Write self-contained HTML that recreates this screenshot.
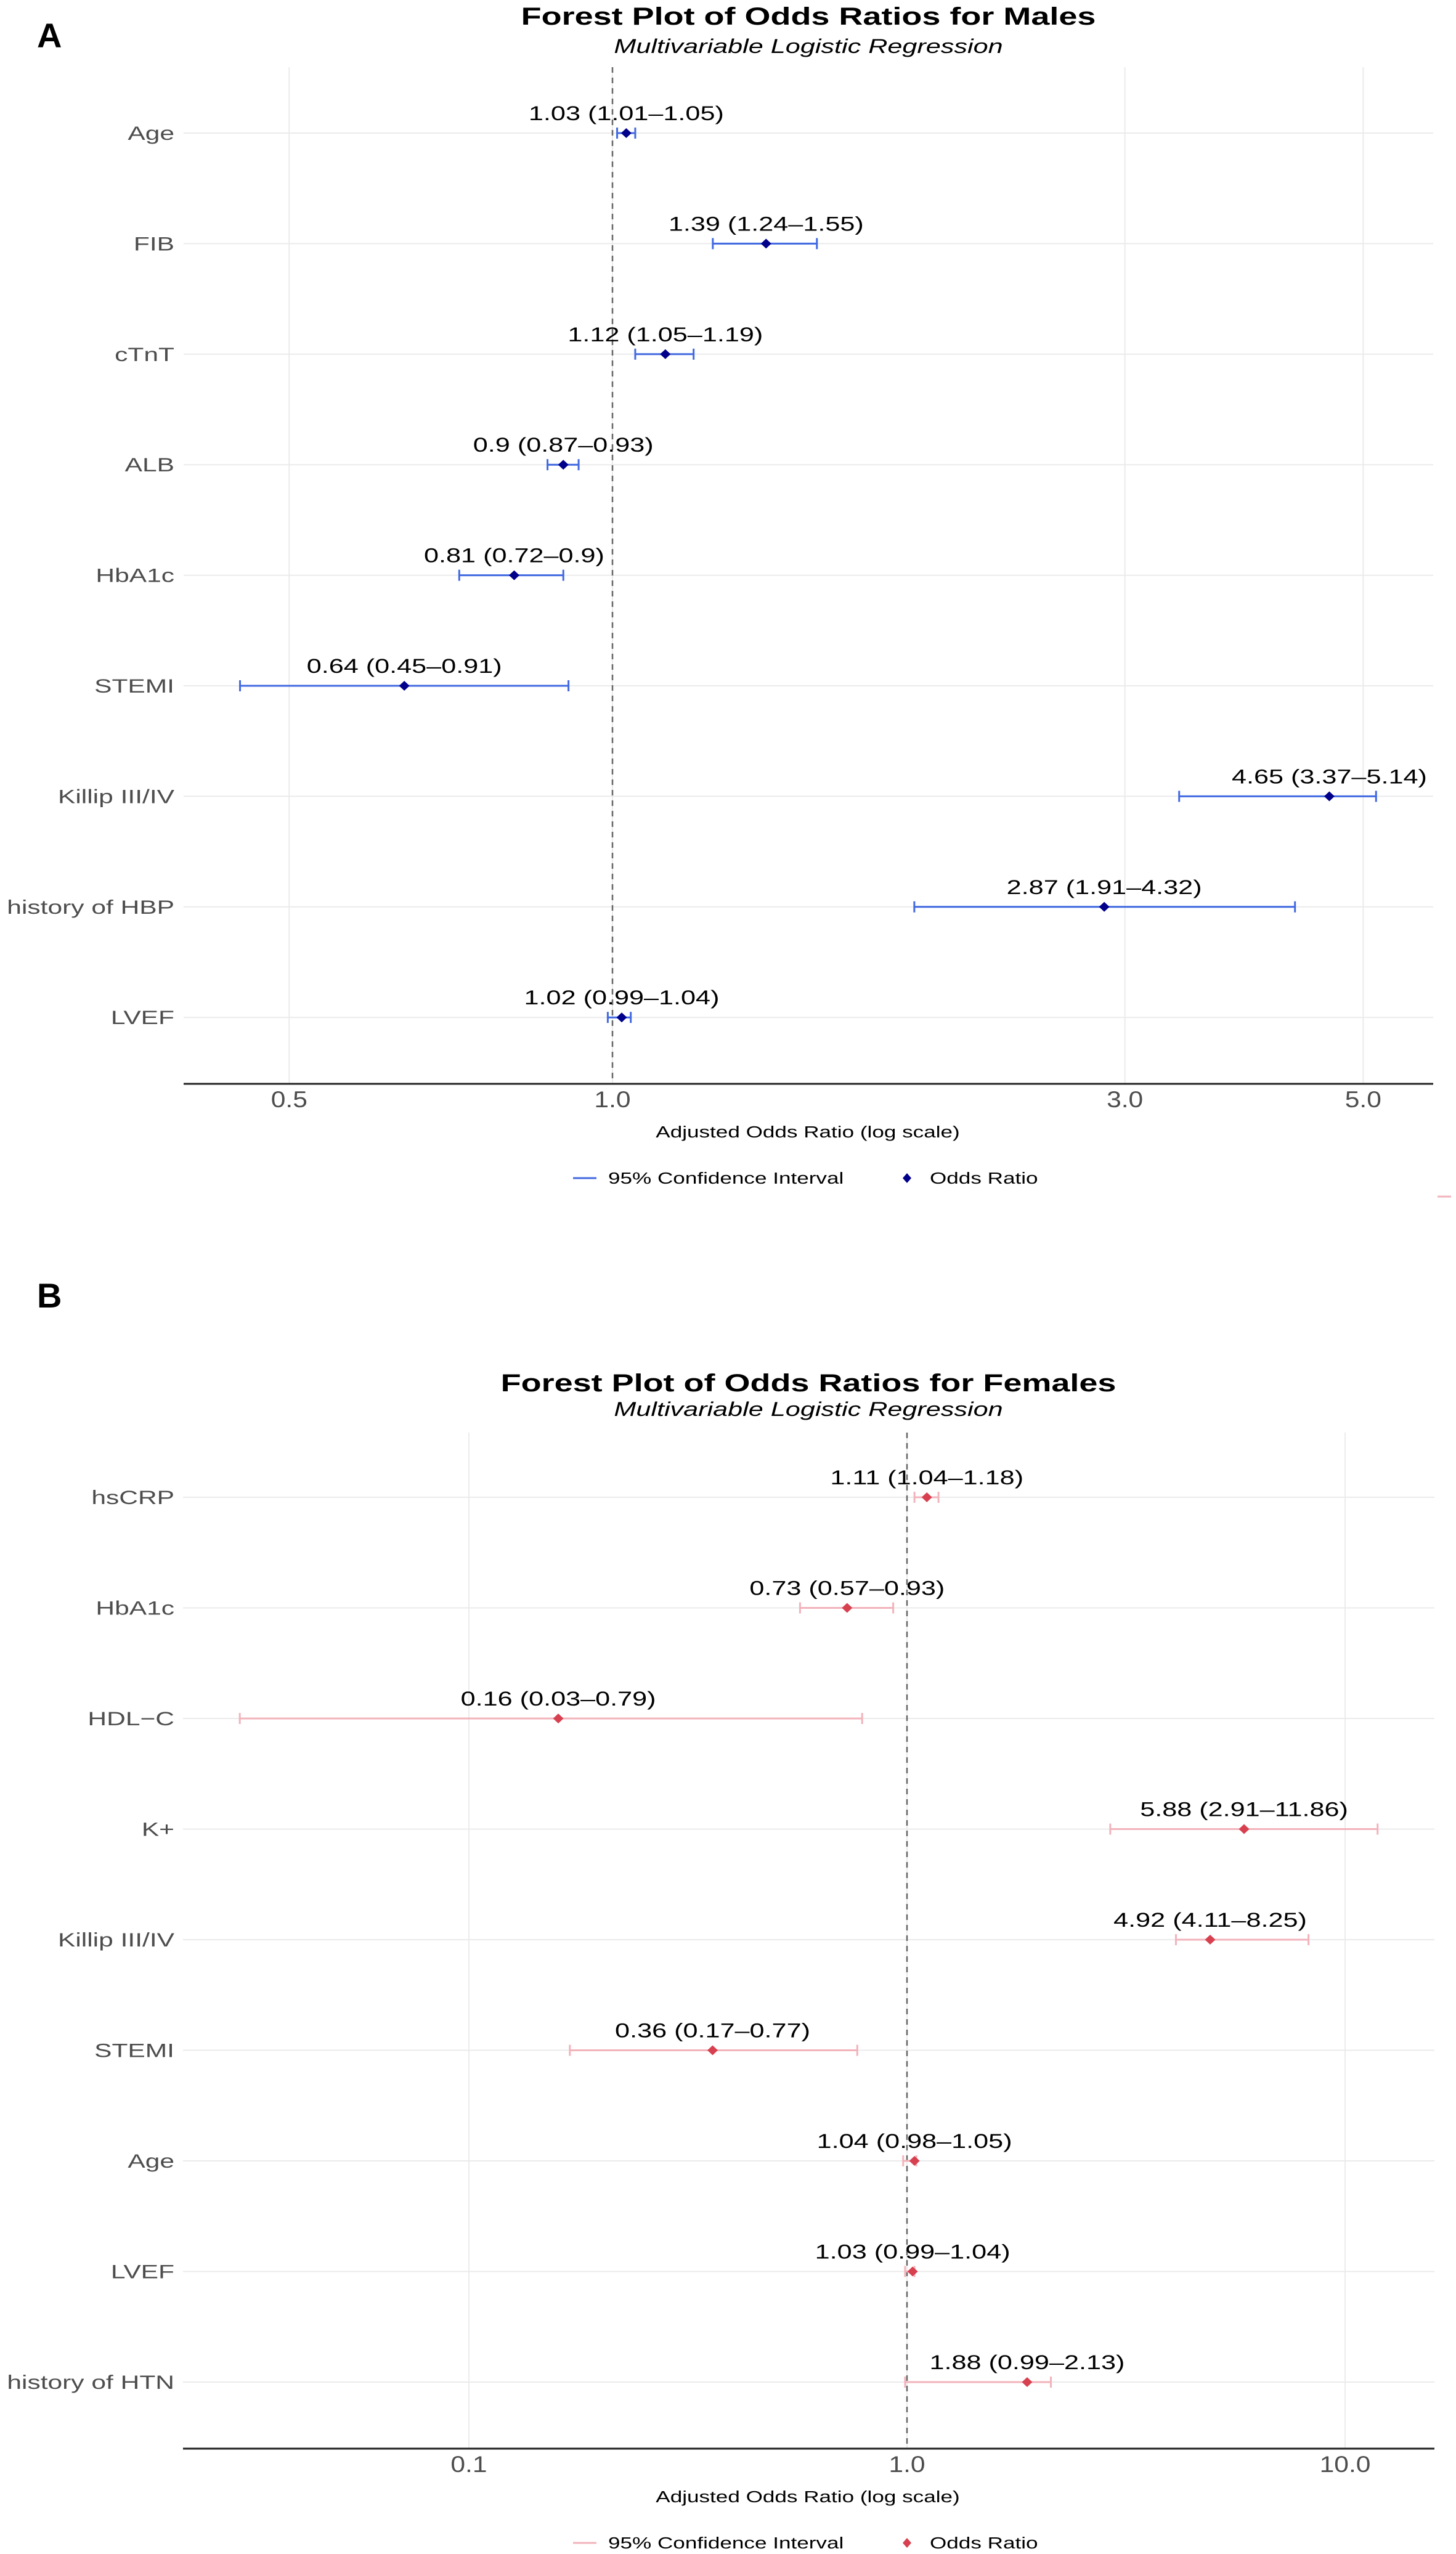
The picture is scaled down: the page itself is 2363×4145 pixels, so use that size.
<!DOCTYPE html>
<html><head><meta charset="utf-8">
<style>
html,body{margin:0;padding:0;background:#fff;}
svg{display:block;}
text{font-family:"Liberation Sans",Arial,sans-serif;}
</style></head>
<body>
<svg id="fig" xmlns="http://www.w3.org/2000/svg" width="2363" height="4145" viewBox="0 0 2363 4145">
<rect x="0" y="0" width="2363" height="4145" fill="#fff"/>
</svg>
<script>
// ---- Panel A (Males) data ----
const maleVars = ["Age","FIB","cTnT","ALB","HbA1c","STEMI","Killip III/IV","history of HBP","LVEF"];
const maleOR   = [1.03,1.39,1.12,0.90,0.81,0.64,4.65,2.87,1.02];
const maleLow  = [1.01,1.24,1.05,0.87,0.72,0.45,3.37,1.91,0.99];
const maleHigh = [1.05,1.55,1.19,0.93,0.90,0.91,5.14,4.32,1.04];
const maleLabels = ["1.03 (1.01\u20131.05)","1.39 (1.24\u20131.55)","1.12 (1.05\u20131.19)","0.9 (0.87\u20130.93)","0.81 (0.72\u20130.9)","0.64 (0.45\u20130.91)","4.65 (3.37\u20135.14)","2.87 (1.91\u20134.32)","1.02 (0.99\u20131.04)"];
const maleTicks = [0.5,1.0,3.0,5.0];
const maleTickLabels = ["0.5","1.0","3.0","5.0"];

// ---- Panel B (Females) data ----
const femaleVars = ["hsCRP","HbA1c","HDL\u2212C","K+","Killip III/IV","STEMI","Age","LVEF","history of HTN"];
const femaleOR   = [1.11,0.73,0.16,5.88,4.92,0.36,1.04,1.03,1.88];
const femaleLow  = [1.04,0.57,0.03,2.91,4.11,0.17,0.98,0.99,0.99];
const femaleHigh = [1.18,0.93,0.79,11.86,8.25,0.77,1.05,1.04,2.13];
const femaleLabels = ["1.11 (1.04\u20131.18)","0.73 (0.57\u20130.93)","0.16 (0.03\u20130.79)","5.88 (2.91\u201311.86)","4.92 (4.11\u20138.25)","0.36 (0.17\u20130.77)","1.04 (0.98\u20131.05)","1.03 (0.99\u20131.04)","1.88 (0.99\u20132.13)"];
const femaleTicks = [0.1,1.0,10.0];
const femaleTickLabels = ["0.1","1.0","10.0"];

const NS = "http://www.w3.org/2000/svg";
const svg = document.getElementById("fig");
const SX = 1.35;

function mk(tag, attrs, parent){
  const e = document.createElementNS(NS, tag);
  for (const k in attrs) e.setAttribute(k, attrs[k]);
  (parent||svg).appendChild(e);
  return e;
}
function txt(x, y, s, size, opts, parent){
  opts = opts||{};
  const t = mk("text", {
    transform: "translate(" + x + "," + y + ") scale(" + (opts.sx===undefined?SX:opts.sx) + ",1)",
    "font-size": size,
    fill: opts.fill||"#000",
    "text-anchor": opts.anchor||"start",
    "font-weight": opts.bold?"bold":"normal",
    "font-style": opts.italic?"italic":"normal"
  }, parent);
  t.textContent = s;
  return t;
}

function panel(cfg){
  const g = mk("g", {});
  
  
  const xs = v => cfg.x1 + cfg.k * Math.log(v);
  const ys = i => cfg.row0 + i * cfg.rowStep;

  const lab = txt(60, cfg.labelY, cfg.letter, 56, {bold:true, sx:1}, g);
  
  

  const t1 = txt(1312, cfg.titleY, cfg.title, 40, {bold:true, anchor:"middle"}, g);
  
  
  const t2 = txt(1312, cfg.subY, "Multivariable Logistic Regression", 32, {italic:true, anchor:"middle"}, g);
  
  

  cfg.vars.forEach((v, i) => {
    const l = mk("line", {x1: cfg.left, x2: cfg.right, y1: ys(i), y2: ys(i), stroke: "#ebebeb", "stroke-width": 2}, g);
    
    
  });
  cfg.ticks.forEach((t, i) => {
    const l = mk("line", {x1: xs(t), x2: xs(t), y1: cfg.top, y2: cfg.axisY, stroke: "#ebebeb", "stroke-width": 2}, g);
    
    
    const tl = txt(xs(t), cfg.axisY + 38, cfg.tickLabels[i], 37, {anchor:"middle", fill:"#4d4d4d", sx:1.15}, g);
    
    
  });
  const ref = mk("line", {x1: xs(1), x2: xs(1), y1: cfg.top, y2: cfg.axisY, stroke: "#666", "stroke-width": 2.5, "stroke-dasharray": "9,8"}, g);
  
  
  const ax = mk("line", {x1: cfg.left, x2: cfg.right, y1: cfg.axisY, y2: cfg.axisY, stroke: "#222", "stroke-width": 3}, g);
  
  

  cfg.vars.forEach((v, i) => {
    const y = ys(i);
    const yl = txt(283, y + 11, v, 31.5, {anchor:"end", fill:"#4d4d4d"}, g);
    
    

    const ci = mk("g", {stroke: cfg.ciColor, "stroke-width": 3}, g);
    
    
    mk("line", {x1: xs(cfg.low[i]), x2: xs(cfg.high[i]), y1: y, y2: y}, ci);
    mk("line", {x1: xs(cfg.low[i]), x2: xs(cfg.low[i]), y1: y - 9, y2: y + 9}, ci);
    mk("line", {x1: xs(cfg.high[i]), x2: xs(cfg.high[i]), y1: y - 9, y2: y + 9}, ci);

    const px = xs(cfg.or[i]);
    const d = mk("polygon", {points: (px-8.5)+","+y+" "+px+","+(y-8)+" "+(px+8.5)+","+y+" "+px+","+(y+8), fill: cfg.ptColor}, g);
    
    

    const vl = txt(px, y - 21, cfg.labels[i], 32, {anchor:"middle"}, g);
    
    
  });

  const at = txt(1311, cfg.axisY + 87, "Adjusted Odds Ratio (log scale)", 26, {anchor:"middle"}, g);
  
  

  const ly = cfg.axisY + 153;
  const lg = mk("g", {}, g);
  
  
  const k1 = mk("line", {x1: 930, x2: 968, y1: ly, y2: ly, stroke: cfg.ciColor, "stroke-width": 3}, lg);
  
  
  const l1 = txt(987, ly + 9, "95% Confidence Interval", 26, {}, lg);
  
  
  const k2 = mk("polygon", {points: "1465,"+ly+" 1472,"+(ly-8)+" 1479,"+ly+" 1472,"+(ly+8), fill: cfg.ptColor}, lg);
  
  
  const l2 = txt(1509, ly + 9, "Odds Ratio", 26, {}, lg);
  
  
}

panel({name:"panel-a-males", letter:"A", labelY:77, title:"Forest Plot of Odds Ratios for Males", titleY:40, subY:86,
  vars:maleVars, or:maleOR, low:maleLow, high:maleHigh, labels:maleLabels, ticks:maleTicks, tickLabels:maleTickLabels,
  x1:994, k:757, left:298, right:2326, top:109, axisY:1759, row0:216, rowStep:179.4,
  ciColor:"#4169e1", ptColor:"#00008b"});

panel({name:"panel-b-females", letter:"B", labelY:2122, title:"Forest Plot of Odds Ratios for Females", titleY:2258, subY:2298,
  vars:femaleVars, or:femaleOR, low:femaleLow, high:femaleHigh, labels:femaleLabels, ticks:femaleTicks, tickLabels:femaleTickLabels,
  x1:1472, k:308.8, left:297, right:2328, top:2325, axisY:3974, row0:2430, rowStep:179.5,
  ciColor:"#f2b3bb", ptColor:"#d7404f"});

const art = mk("line", {x1: 2333, x2: 2355, y1: 1942, y2: 1942, stroke: "#f2b3bb", "stroke-width": 3});


</script>
</body></html>
